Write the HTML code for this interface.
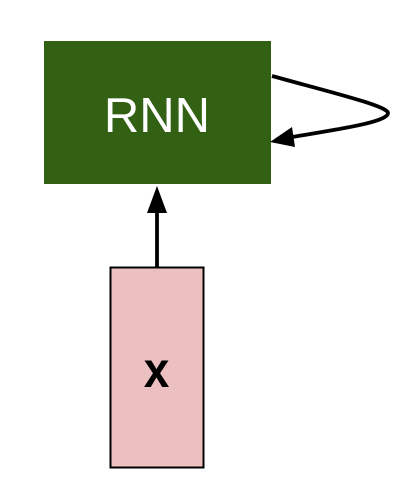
<!DOCTYPE html>
<html><head><style>html,body{margin:0;padding:0;background:#fff;}svg{display:block;}</style></head>
<body>
<svg width="410" height="498" viewBox="0 0 410 498" xmlns="http://www.w3.org/2000/svg">
<rect x="44" y="41" width="227" height="143" fill="#336114"/>
<text x="157" y="132" font-family="Liberation Sans, sans-serif" font-size="49" fill="#fff" text-anchor="middle">RNN</text>
<rect x="110.5" y="267.5" width="93" height="200" fill="#ecbfc1" stroke="#000" stroke-width="2"/>
<text x="0" y="0" transform="translate(156.5,387) scale(1.15,1.25)" font-family="Liberation Sans, sans-serif" font-size="40" font-weight="bold" fill="#000" text-anchor="middle">x</text>
<line x1="157" y1="267" x2="157" y2="210" stroke="#000" stroke-width="3.8"/>
<polygon points="157,186 147,213 167,213" fill="#000"/>
<path d="M272,76 C330,92 388,106 388,113 C388,122 340,129 292,137" fill="none" stroke="#000" stroke-width="3.8"/>
<polygon points="270,142 292,127 295,147" fill="#000"/>
</svg>
</body></html>
